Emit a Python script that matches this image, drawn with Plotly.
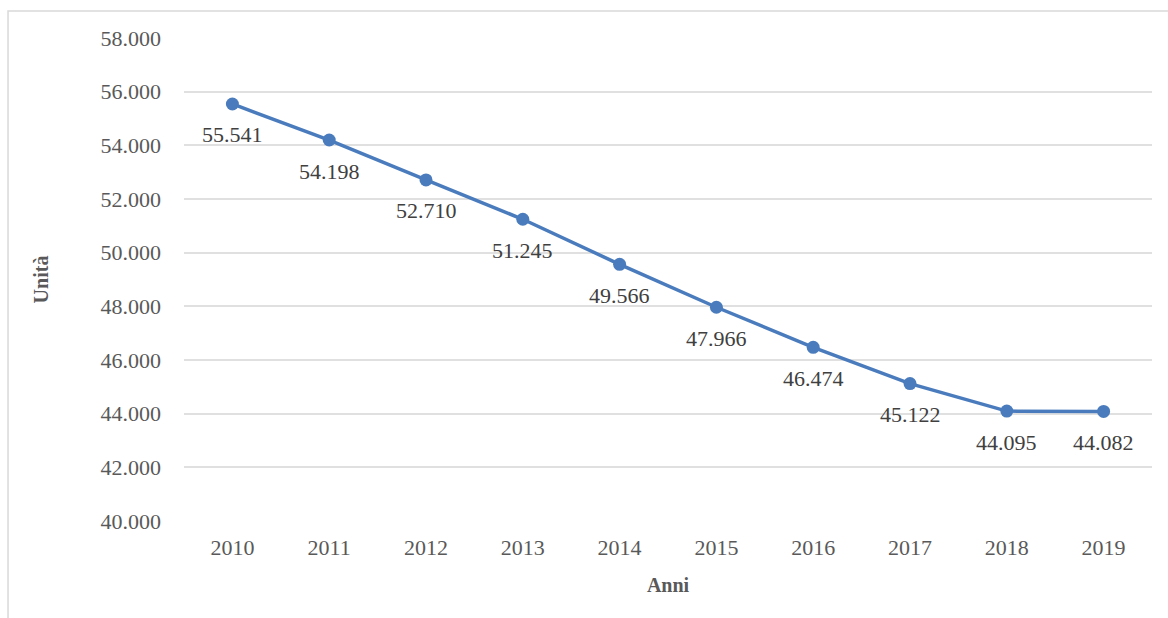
import plotly.graph_objects as go

# Number of units per year
anni = ["2010", "2011", "2012", "2013", "2014", "2015", "2016", "2017", "2018", "2019"]
unita = [55541, 54198, 52710, 51245, 49566, 47966, 46474, 45122, 44095, 44082]
y_ticks = [40000, 42000, 44000, 46000, 48000, 50000, 52000, 54000, 56000, 58000]

LINE_COLOR = "#4A7CBD"
SERIF = "Liberation Serif, Times New Roman, serif"

fig = go.Figure()
fig.add_trace(go.Scatter(
    x=anni, y=unita, mode="lines+markers",
    line=dict(color=LINE_COLOR, width=3.5),
    marker=dict(color=LINE_COLOR, size=13),
    hoverinfo="skip", showlegend=False,
))

# Value labels below each point, Italian thousands separator
for i, v in enumerate(unita):
    fig.add_annotation(
        x=i, y=v, text=f"{v:,}".replace(",", "."), showarrow=False,
        yshift=-31, font=dict(family=SERIF, size=22, color="#404040"),
    )

# Outer frame of the chart area
fig.add_shape(type="rect", xref="paper", yref="paper",
              x0=-0.1818, x1=1.2, y0=-0.4, y1=1.056,
              line=dict(color="#d9d9d9", width=1.5), layer="below")

fig.update_layout(
    width=1168, height=618,
    margin=dict(l=184, r=16, t=38, b=97),
    paper_bgcolor="white", plot_bgcolor="white",
    separators=",.",
    font=dict(family=SERIF, color="#595959", size=22),
    xaxis=dict(
        type="category", categoryorder="array", categoryarray=anni,
        range=[-0.5, len(anni) - 0.5],
        showgrid=False, zeroline=False, showline=False,
        ticks="", ticklabelstandoff=11,
        tickfont=dict(family=SERIF, size=22, color="#595959"),
        title=dict(text="<b>Anni</b>", standoff=18,
                   font=dict(family=SERIF, size=20, color="#595959")),
    ),
    yaxis=dict(
        range=[40000, 58000], tickvals=y_ticks, tickformat=",d",
        showgrid=True, gridcolor="#e0e0e0", gridwidth=1.5,
        zeroline=False, showline=False, ticks="", ticklabelstandoff=22,
        tickfont=dict(family=SERIF, size=22, color="#595959"),
        title=dict(text="<b>Unità</b>", standoff=46,
                   font=dict(family=SERIF, size=20, color="#595959")),
    ),
)

fig.write_html("out.html")
